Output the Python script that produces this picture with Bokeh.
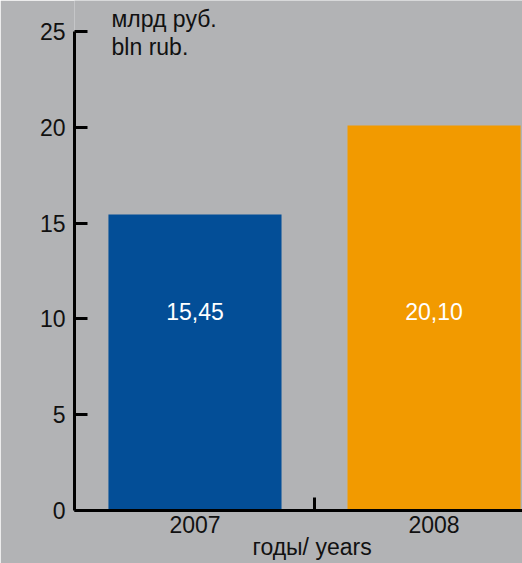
from bokeh.plotting import figure
from bokeh.models import Range1d, FixedTicker, ColumnDataSource, Label, Title
from bokeh.core.properties import value
from bokeh.embed import file_html
from bokeh.resources import INLINE

categories = ["2007", "2008"]
values = [15.45, 20.10]
value_labels = ["15,45", "20,10"]
colors = ["#034e97", "#f29a00"]
y_ticks = [0, 5, 10, 15, 20, 25]
unit_lines = ["млрд руб.", "bln rub."]
x_title = "годы/ years"

FONT = "Liberation Sans"
FS = "23px"
BG = "#b2b3b5"
TXT = "#111111"

xs = list(range(len(categories)))
src = ColumnDataSource(dict(x=xs, top=values, color=colors, lab=value_labels,
                            ly=[10.39] * len(xs)))

p = figure(width=522, height=563, output_backend="svg", toolbar_location=None,
           x_range=Range1d(-0.504, 1.37), y_range=Range1d(0, 26.62),
           min_border_left=74, min_border_right=0, min_border_top=0,
           min_border_bottom=53)
p.background_fill_color = BG
p.border_fill_color = BG
p.outline_line_color = None
p.grid.visible = False

p.vbar(x="x", top="top", width=0.724, bottom=0, color="color", line_color=None, source=src)
p.text(x="x", y="ly", text="lab", source=src, text_color="white",
       text_align="center", text_baseline="middle", text_font=value(FONT),
       text_font_size=FS)

# y axis
ya = p.yaxis[0]
ya.ticker = FixedTicker(ticks=y_ticks)
ya.bounds = (0, 25)
ya.axis_line_width = 3
ya.axis_line_color = "black"
ya.major_tick_in = 13
ya.major_tick_out = 0
ya.major_tick_line_width = 3
ya.minor_tick_line_color = None
ya.major_label_text_font = FONT
ya.major_label_text_font_size = FS
ya.major_label_text_color = TXT
ya.major_label_standoff = 9

# x axis
xa = p.xaxis[0]
xa.ticker = FixedTicker(ticks=xs, minor_ticks=[0.5])
xa.major_label_overrides = {i: c for i, c in enumerate(categories)}
xa.axis_line_width = 3
xa.axis_line_color = "black"
xa.major_tick_in = 0
xa.major_tick_out = 0
xa.major_tick_line_color = None
xa.minor_tick_in = 13
xa.minor_tick_out = 0
xa.minor_tick_line_width = 3
xa.minor_tick_line_color = "black"
xa.major_label_text_font = FONT
xa.major_label_text_font_size = FS
xa.major_label_text_color = TXT
xa.major_label_standoff = 5

p.add_layout(Title(text=x_title, align="left", offset=178, standoff=-7,
                   text_font=FONT, text_font_size=FS, text_font_style="normal",
                   text_color=TXT), "below")

for i, t in enumerate(unit_lines):
    p.add_layout(Label(x=-0.349, y=25.68 - 1.51 * i, text=t, text_font=FONT,
                       text_font_size=FS, text_color=TXT,
                       text_baseline="middle", text_align="left"))

open("out.html", "w").write(file_html(p, INLINE))
